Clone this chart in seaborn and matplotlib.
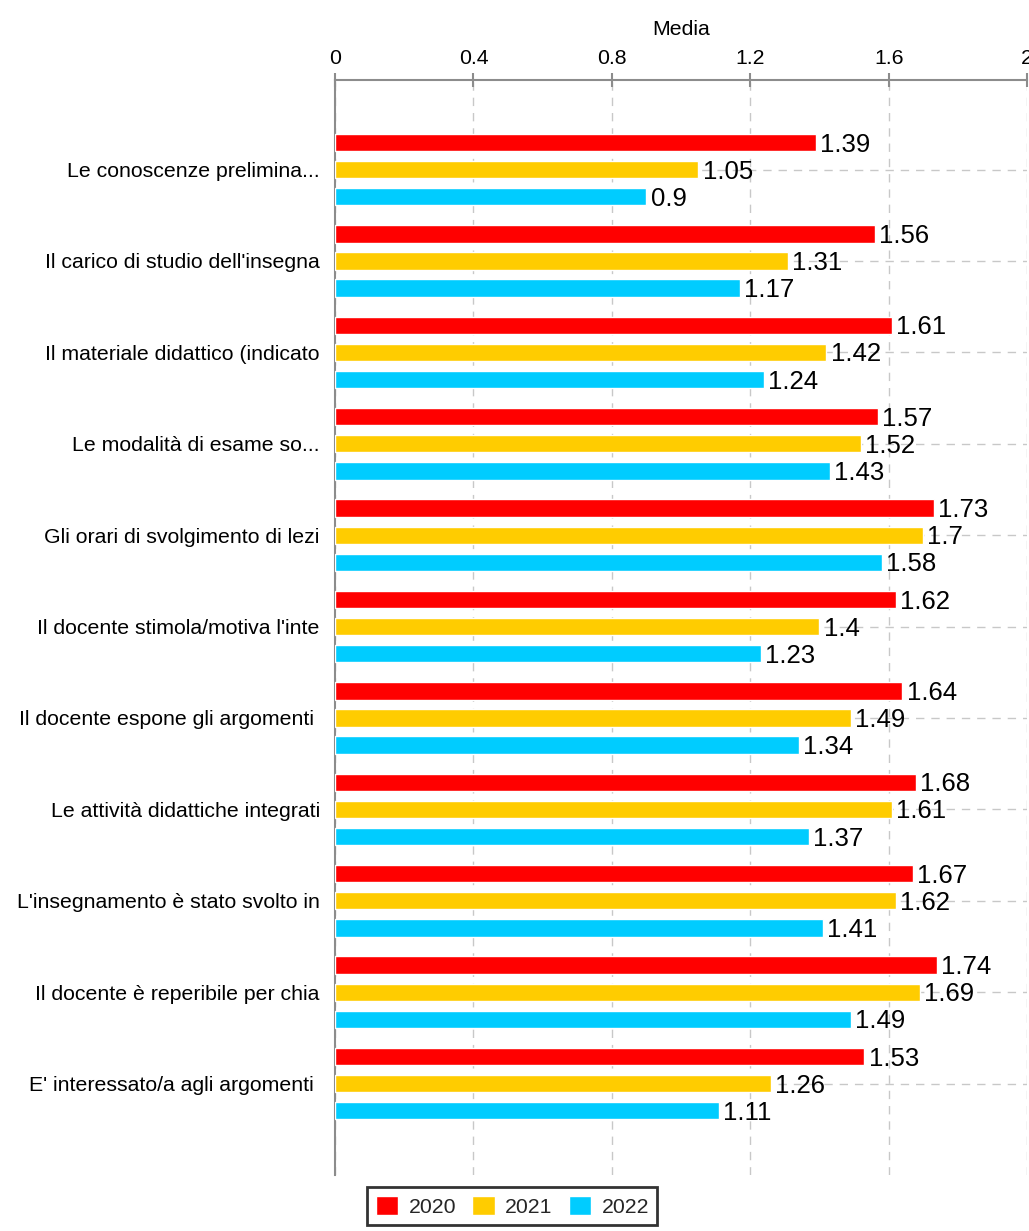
import matplotlib
matplotlib.use("Agg")
import matplotlib.pyplot as plt
import pandas as pd
import seaborn as sns

domande = [
    "Le conoscenze prelimina...",
    "Il carico di studio dell'insegna",
    "Il materiale didattico (indicato",
    "Le modalità di esame so...",
    "Gli orari di svolgimento di lezi",
    "Il docente stimola/motiva l'inte",
    "Il docente espone gli argomenti ",
    "Le attività didattiche integrati",
    "L'insegnamento è stato svolto in",
    "Il docente è reperibile per chia",
    "E' interessato/a agli argomenti ",
]
anni = ["2020", "2021", "2022"]
media_2020 = [1.39, 1.56, 1.61, 1.57, 1.73, 1.62, 1.64, 1.68, 1.67, 1.74, 1.53]
media_2021 = [1.05, 1.31, 1.42, 1.52, 1.7, 1.4, 1.49, 1.61, 1.62, 1.69, 1.26]
media_2022 = [0.9, 1.17, 1.24, 1.43, 1.58, 1.23, 1.34, 1.37, 1.41, 1.49, 1.11]
colori = ["#ff0000", "#ffcc00", "#00ccff"]
x_ticks = [0, 0.4, 0.8, 1.2, 1.6, 2.0]

rows = []
for anno, valori in zip(anni, [media_2020, media_2021, media_2022]):
    for domanda, v in zip(domande, valori):
        rows.append({"domanda": domanda, "anno": anno, "media": v})
df = pd.DataFrame(rows)

sns.set_style("white")
plt.rcParams["font.family"] = ["Liberation Sans", "DejaVu Sans"]

fig = plt.figure(figsize=(10.29, 12.31), dpi=100)
ax = fig.add_axes([0.3256, 0.0455, 0.6725, 0.8895])

sns.barplot(
    data=df, x="media", y="domanda", hue="anno", orient="h",
    palette=colori, saturation=1, width=0.89, gap=0.36,
    order=domande, hue_order=anni, ax=ax, zorder=3,
)

for cont in ax.containers:
    texts = ax.bar_label(cont, fmt="%g", padding=3, fontsize=18.5, color="#000000")
    for t in texts:
        # nudge down a little so digits sit centred on the bar
        t.xyann = (3, -1.5)

ax.set_xlim(0, 2)
ax.set_ylim(11.0, -0.98)
ax.set_xticks(x_ticks)
ax.set_xticklabels([f"{t:g}" for t in x_ticks])
ax.xaxis.tick_top()
ax.xaxis.set_label_position("top")
ax.set_xlabel("Media", fontsize=15.3, labelpad=10, color="#000000")
ax.set_ylabel("")

ax.tick_params(axis="both", direction="inout", length=10, width=1.5,
               color="#8c8c8c", labelsize=15.3, labelcolor="#000000")
ax.tick_params(axis="x", pad=4)
ax.tick_params(axis="y", pad=6)

ax.grid(True, axis="both", linestyle=(0, (6, 5)), color="#c8c8c8", linewidth=1)
ax.set_axisbelow(True)

for side in ["right", "bottom"]:
    ax.spines[side].set_visible(False)
for side in ["top", "left"]:
    ax.spines[side].set_color("#8c8c8c")
    ax.spines[side].set_linewidth(1.5)

handles, labels = ax.get_legend_handles_labels()
ax.get_legend().remove()
leg = fig.legend(
    handles, labels, loc="upper center", bbox_to_anchor=(0.498, 1 - 1187 / 1231),
    ncol=3, fontsize=15.3, frameon=True, fancybox=False,
    handlelength=1.05, handleheight=1.05, handletextpad=0.5,
    columnspacing=0.75, borderpad=0.4, borderaxespad=0,
)
leg.get_frame().set_edgecolor("black")
leg.get_frame().set_linewidth(2)

fig.savefig("out.png", dpi=100)
